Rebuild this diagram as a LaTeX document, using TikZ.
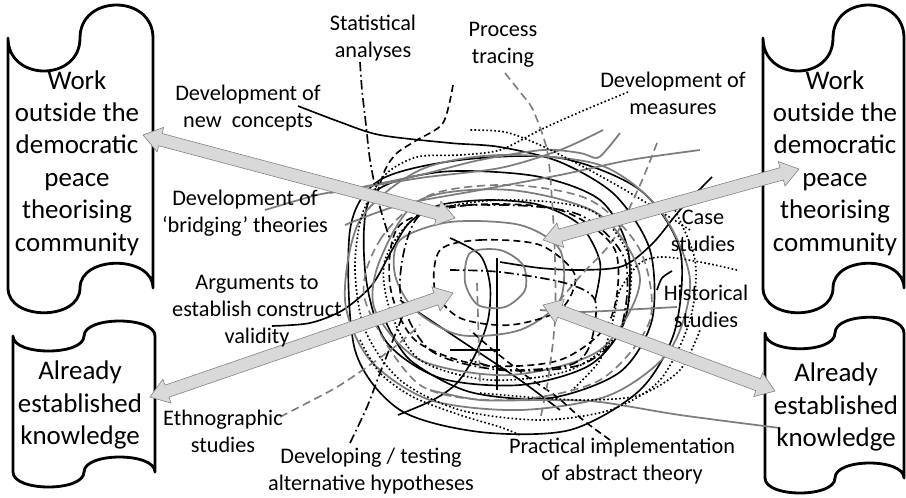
\documentclass[tikz,border=0pt]{standalone}
\usepackage{fontspec}
\setmainfont{Carlito}
\usetikzlibrary{calc}

\definecolor{arrowgrey}{RGB}{217,217,217}
\definecolor{linegrey}{RGB}{125,125,125}

\tikzset{
  scroll/.style={line width=2.4pt, fill=white, line join=round},
  scrolltext/.style={font=\fontsize{23}{27.7}\selectfont, align=center, inner sep=0pt},
  lbl/.style={font=\fontsize{19}{23}\selectfont, align=center, inner sep=0pt},
  blockarrow/.style={fill=arrowgrey, draw=gray, line width=0.5pt},
  inkblack/.style={line width=1.4pt},
  inkgrey/.style={line width=1.5pt, linegrey},
  inkdotted/.style={line width=1.4pt, dotted},
  inkdashed/.style={line width=1.4pt, dash pattern=on 6pt off 3.5pt},
  inkgreydashed/.style={line width=1.4pt, linegrey, dash pattern=on 7pt off 4pt},
  inkdashdot/.style={line width=1.4pt, dash pattern=on 8pt off 3pt on 1.5pt off 3pt},
}

% double headed block arrow between two named points
\newcommand{\fatarrow}[2]{%
  \coordinate (hA) at ($(#1)!0.54cm!(#2)$);
  \coordinate (hB) at ($(#2)!0.54cm!(#1)$);
  \draw[blockarrow] (#1) -- ($(hA)!0.38cm!90:(#2)$) -- ($(hA)!0.19cm!90:(#2)$)
    -- ($(hB)!0.19cm!-90:(#1)$) -- ($(hB)!0.38cm!-90:(#1)$) -- (#2)
    -- ($(hB)!0.38cm!90:(#1)$) -- ($(hB)!0.19cm!90:(#1)$)
    -- ($(hA)!0.19cm!-90:(#2)$) -- ($(hA)!0.38cm!-90:(#2)$) -- cycle;}

\begin{document}
\begin{tikzpicture}[x=0.03cm, y=-0.03cm]
  \useasboundingbox (0,0) rectangle (906,497);

  % Scrolls
  \draw[scroll] (8,38) .. controls (8,82) and (80,82) .. (80,38) .. controls (80,-6) and (153,-6) .. (153,38)
    -- (153,288) .. controls (153,255) and (80,255) .. (80,288) .. controls (80,321) and (8,321) .. (8,288) -- cycle;
  \draw[scroll] (13,336) .. controls (13,356) and (84,356) .. (84,336) .. controls (84,316) and (155,316) .. (155,336)
    -- (155,472) .. controls (155,452) and (84,452) .. (84,472) .. controls (84,492) and (13,492) .. (13,472) -- cycle;
  \draw[scroll] (763,38) .. controls (763,82) and (833,82) .. (833,38) .. controls (833,-6) and (904,-6) .. (904,38)
    -- (904,288) .. controls (904,255) and (833,255) .. (833,288) .. controls (833,321) and (763,321) .. (763,288) -- cycle;
  \draw[scroll] (765,333) .. controls (765,354) and (835,354) .. (835,333) .. controls (835,312) and (904,312) .. (904,333)
    -- (904,478) .. controls (904,458) and (835,458) .. (835,478) .. controls (835,498) and (765,498) .. (765,478) -- cycle;

  % Scribble: solid black
  \draw[inkblack] plot[smooth] coordinates {(298,106) (340,122) (380,135) (450,143) (500,147) (560,162) (615,195) (650,250) (652,320) (620,372) (550,398) (470,392) (410,360) (385,320)};
  \draw[inkblack] plot[smooth] coordinates {(272,326) (310,323) (343,310) (372,285) (392,250) (410,222) (440,205) (490,200) (540,205) (580,225) (600,262) (595,300)};
  \draw[inkblack] plot[smooth] coordinates {(712,177) (680,210) (653,243) (623,266) (580,270) (540,268) (500,262)};
  \draw[inkblack] plot[smooth] coordinates {(672,271) (662,278) (657,290)};
  \draw[inkblack] plot[smooth] coordinates {(398,415) (433,400) (457,383) (475,355) (488,320) (490,285) (480,255) (450,238)};
  \draw[inkblack] plot[smooth cycle] coordinates {(372,195) (440,172) (535,176) (600,200) (628,250) (625,320) (590,365) (520,385) (440,378) (385,340) (365,270)};
  \draw[inkblack] plot[smooth cycle] coordinates {(350,230) (380,180) (460,160) (560,158) (640,190) (680,250) (675,330) (640,390) (570,430) (480,432) (400,410) (355,350)};
  \draw[inkblack] plot[smooth] coordinates {(400,300) (460,340) (520,380) (560,410)};
  \draw[inkblack] (450,350) -- (500,350);
  \draw[inkblack] (497,258) -- (497,390);

  % Scribble: grey
  \draw[inkgrey] plot[smooth] coordinates {(265,210) (317,195) (357,188) (420,175) (480,160) (543,150) (580,153) (597,158) (608,148) (620,133)};
  \draw[inkgrey] plot[smooth] coordinates {(700,150) (630,160) (560,175) (480,190) (400,205) (345,225)};
  \draw[inkgrey] plot[smooth] coordinates {(330,193) (420,178) (500,168) (560,150) (603,130)};
  \draw[inkgrey] plot[smooth] coordinates {(677,307) (640,309) (580,312) (540,310)};
  \draw[inkgrey] plot[smooth] coordinates {(780,428) (680,415) (600,402) (547,400) (480,400) (430,390)};
  \draw[inkgrey] plot[smooth cycle] coordinates {(400,240) (450,222) (520,225) (560,250) (560,300) (520,330) (460,335) (415,310) (395,275)};
  \draw[inkgrey] plot[smooth cycle] coordinates {(470,253) (500,250) (523,265) (525,290) (505,307) (478,305) (465,282)};
  \draw[inkgrey] plot[smooth cycle] coordinates {(380,260) (420,200) (510,190) (600,215) (640,280) (600,350) (510,375) (420,360) (375,310)};
  \draw[inkgrey] plot[smooth cycle] coordinates {(345,300) (360,220) (420,170) (500,155) (600,165) (660,210) (690,280) (670,350) (610,395) (520,410) (430,400) (370,360)};

  % Scribble: dotted
  \draw[inkdotted] plot[smooth] coordinates {(628,92) (580,112) (540,130) (500,150) (460,155) (417,157) (385,175) (362,215) (355,270) (365,330) (400,380) (460,410) (540,420) (610,410) (660,380) (690,320) (695,260) (670,200)};
  \draw[inkdotted] plot[smooth] coordinates {(690,230) (650,205) (620,187) (580,165) (540,145) (505,132) (470,130)};
  \draw[inkdotted] plot[smooth] coordinates {(737,270) (700,262) (663,257) (640,263) (620,290) (613,320) (600,360) (570,392)};
  \draw[inkdotted] plot[smooth] coordinates {(360,340) (380,373) (413,397) (460,415) (500,427) (520,435)};
  \draw[inkdotted] plot[smooth cycle] coordinates {(385,260) (420,215) (500,200) (590,210) (630,260) (620,330) (570,370) (490,380) (420,360) (390,310)};
  \draw[inkdotted] plot[smooth] coordinates {(480,393) (540,398) (590,400) (640,395) (680,370) (700,330)};

  % Scribble: dashed
  \draw[inkdashed] plot[smooth] coordinates {(453,85) (443,123) (417,140) (397,153) (385,170) (375,200)};
  \draw[inkdashed] plot[smooth] coordinates {(610,440) (583,420) (557,397) (525,375) (493,350) (470,330)};
  \draw[inkdashed] plot[smooth cycle] coordinates {(440,250) (480,240) (540,245) (575,275) (560,310) (510,325) (460,318) (435,290)};
  \draw[inkdashed] plot[smooth cycle] coordinates {(400,225) (470,205) (560,210) (615,250) (610,320) (560,360) (480,365) (415,340) (390,285)};

  % Scribble: grey dashed
  \draw[inkgreydashed] plot[smooth] coordinates {(505,73) (520,92) (533,110) (547,150) (552,200) (555,260) (555,320) (548,380) (540,420)};
  \draw[inkgreydashed] plot[smooth] coordinates {(280,417) (307,403) (337,387) (367,367) (397,345) (420,325)};
  \draw[inkgreydashed] plot[smooth] coordinates {(657,143) (640,185) (613,240) (583,273) (560,300)};
  \draw[inkgreydashed] plot[smooth cycle] coordinates {(365,300) (380,240) (430,195) (510,185) (590,200) (640,250) (650,320) (600,380) (510,400) (420,385)};
  \draw[inkgreydashed] (477,283) -- (480,383);

  % Scribble: dash dot
  \draw[inkdashdot] plot[smooth] coordinates {(360,62) (362,90) (366,125) (370,160) (378,200) (390,240)};
  \draw[inkdashdot] plot[smooth] coordinates {(350,443) (367,407) (380,373) (393,340) (405,310)};
  \draw[inkdashdot] plot[smooth cycle] coordinates {(420,215) (500,205) (580,215) (625,260) (620,330) (580,365) (500,370) (430,350) (400,290)};
  \draw[inkdashdot] plot[smooth] coordinates {(450,270) (500,272) (565,283) (595,300) (590,345) (570,365) (510,370) (470,360)};

  % Arrows between the scrolls and the centre
  \coordinate (tipLT) at (143,135);
  \coordinate (tipC1) at (455,218);
  \coordinate (tipC2) at (543,240);
  \coordinate (tipRT) at (799,169);
  \coordinate (tipLB) at (150,397);
  \coordinate (tipC3) at (453,293);
  \coordinate (tipC4) at (543,305);
  \coordinate (tipRB) at (775,391);
  \fatarrow{tipLT}{tipC1}
  \fatarrow{tipC2}{tipRT}
  \fatarrow{tipLB}{tipC3}
  \fatarrow{tipC4}{tipRB}

  % Scroll texts
  \node[scrolltext] (workleft) at (77,163) {Work\\outside the\\democratic\\peace\\theorising\\community};
  \node[scrolltext] (workright) at (835,163) {Work\\outside the\\democratic\\peace\\theorising\\community};
  \node[scrolltext] (knownleft) at (80,405) {Already\\established\\knowledge};
  \node[scrolltext] (knownright) at (836,407) {Already\\established\\knowledge};

  % Labels
  \node[lbl] (stat) at (373,38) {Statistical\\analyses};
  \node[lbl] (proc) at (503,45) {Process\\tracing};
  \node[lbl] (meas) at (673,93) {Development of\\measures};
  \node[lbl] (newc) at (248,108) {Development of\\new\ \ concepts};
  \node[lbl] (bridg) at (245,213) {Development of\\`bridging' theories};
  \node[lbl] (args) at (257,311) {Arguments to\\establish construct\\validity};
  \node[lbl] (case) at (703,231) {Case\\studies};
  \node[lbl] (hist) at (706,306) {Historical\\studies};
  \node[lbl] (ethno) at (223,431) {Ethnographic\\studies};
  \node[lbl] (devtest) at (371,471) {Developing / testing\\alternative hypotheses};
  \node[lbl] (pract) at (622,461) {Practical implementation\\of abstract theory};
\end{tikzpicture}
\end{document}
